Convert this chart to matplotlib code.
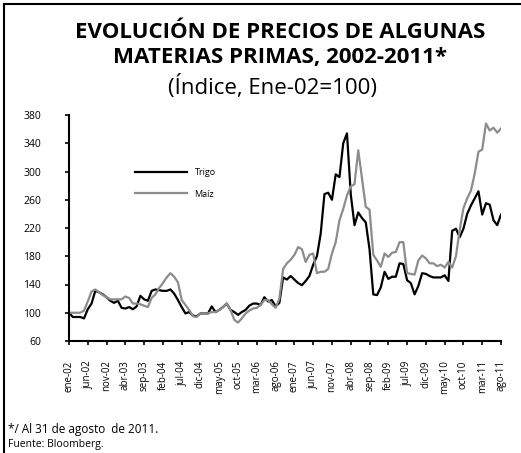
import numpy as np
import matplotlib
matplotlib.use("Agg")
import matplotlib.pyplot as plt
from matplotlib.lines import Line2D

plt.rcParams['font.family'] = ['Open Sans', 'DejaVu Sans']

# monthly index, ene-02 .. ago-11 (Ene-02 = 100)
months = ["ene", "feb", "mar", "abr", "may", "jun", "jul", "ago", "sep", "oct", "nov", "dic"]
labels = [f"{months[m]}-{y % 100:02d}" for y in range(2002, 2012) for m in range(12)][:116]

trigo = [100, 94, 94, 94, 92, 105, 113, 131, 129, 126, 122, 117,
         114, 117, 107, 106, 108, 105, 109, 124, 119, 117, 131, 133,
         132, 131, 131, 133, 127, 118, 108, 99, 101, 96, 95, 99,
         99, 99, 109, 101, 104, 108, 113, 104, 101, 97, 101, 104,
         110, 113, 113, 111, 122, 116, 118, 109, 114, 150, 147, 152,
         147, 142, 139, 145, 152, 168, 180, 212, 268, 270, 260, 296,
         292, 340, 354, 268, 224, 242, 234, 228, 190, 126, 125, 136,
         158, 148, 151, 151, 170, 169, 146, 142, 126, 138, 156, 155,
         152, 150, 150, 150, 153, 145, 216, 219, 207, 219, 240, 252,
         262, 272, 239, 255, 253, 231, 224, 239]

maiz = [100, 100, 100, 100, 103, 116, 130, 133, 129, 125, 122, 119,
        119, 119, 119, 123, 121, 113, 113, 112, 110, 108, 121, 126,
        135, 142, 150, 156, 151, 143, 118, 111, 104, 95, 94, 99,
        99, 99, 101, 101, 104, 108, 113, 104, 90, 86, 92, 99,
        103, 106, 107, 111, 118, 118, 112, 107, 120, 162, 170, 175,
        182, 193, 190, 172, 182, 184, 156, 158, 158, 162, 184, 200,
        231, 247, 266, 279, 282, 330, 290, 250, 246, 182, 174, 165,
        184, 179, 185, 186, 200, 200, 156, 155, 154, 174, 181, 177,
        170, 170, 166, 168, 164, 172, 164, 180, 217, 248, 262, 273,
        297, 328, 331, 368, 358, 362, 355, 361]

yticks = [60, 100, 140, 180, 220, 260, 300, 340, 380]

W, H = 521, 453
fig = plt.figure(figsize=(W / 100, H / 100), dpi=100)
ax = fig.add_axes([69/W, 1 - 341/H, 432/W, 226/H])

x = np.arange(len(trigo))
ax.plot(x, trigo, color="black", lw=1.6, label="Trigo")
ax.plot(x, maiz, color="#8c8c8c", lw=1.6, label="Maíz")

ax.set_xlim(0, 115)
ax.set_ylim(60, 380)
ax.set_yticks(yticks)
ax.set_xticks(x[::5])
ax.set_xticklabels(labels[::5], rotation=90, fontsize=7)
ax.tick_params(axis="y", labelsize=7.5, length=3, width=1.2, pad=17)
ax.tick_params(axis="x", length=3, width=1.2, pad=11)
for s in ["top", "right"]:
    ax.spines[s].set_visible(False)
for s in ["left", "bottom"]:
    ax.spines[s].set_linewidth(1.5)

ax.legend(loc="upper left", bbox_to_anchor=(135/W, 1 - 168/H), bbox_transform=fig.transFigure,
          frameon=False, borderpad=0, borderaxespad=0,
          fontsize=6.5, handlelength=5.8, handletextpad=0.8, labelspacing=1.4)

fig.text(280/W, 1 - 32/H, "EVOLUCIÓN DE PRECIOS DE ALGUNAS", ha="center", va="center",
         fontsize=16, fontweight="bold")
fig.text(280/W, 1 - 58/H, "MATERIAS PRIMAS, 2002-2011*", ha="center", va="center",
         fontsize=16, fontweight="bold")
fig.text(273/W, 1 - 87/H, "(Índice, Ene-02=100)", ha="center", va="center",
         fontsize=16)
fig.text(8/W, 1 - 429/H, "*/ Al 31 de agosto  de 2011.", ha="left", va="center", fontsize=8.5)
fig.text(8/W, 1 - 445/H, "Fuente: Bloomberg.", ha="left", va="center", fontsize=7.5)

# frame lines at top and left of the picture
fig.add_artist(Line2D([4/W, 4/W], [0, 1 - 4/H], color="black", lw=1.5, transform=fig.transFigure))
fig.add_artist(Line2D([4/W, 1], [1 - 4/H, 1 - 4/H], color="black", lw=1.5, transform=fig.transFigure))

fig.savefig("out.png", dpi=100)
